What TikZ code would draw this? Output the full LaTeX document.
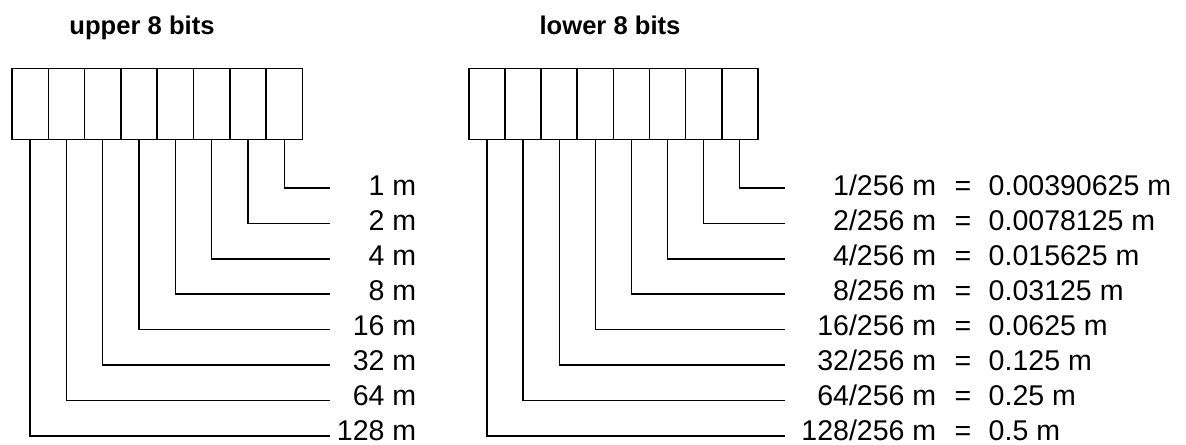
\documentclass[tikz,border=0pt]{standalone}
\usepackage{fontspec}
\setmainfont{Liberation Sans}

\begin{document}
\begin{tikzpicture}[x=0.75pt,y=-0.75pt,line width=1.1pt]
  \tikzstyle{cell}=[draw,line width=1.1pt,minimum width=27.2pt,minimum height=53.5pt,inner sep=0pt]
  \tikzstyle{title}=[inner sep=0pt,anchor=base,font=\fontsize{19.2}{22}\selectfont\bfseries]
  \tikzstyle{val}=[inner sep=0pt,font=\fontsize{21.4}{24}\selectfont]
  \tikzstyle{lead}=[line width=1.1pt]

  \useasboundingbox (0,0) rectangle (1186,445);

  % -- Titles --
  \node[title] (uppertitle) at (142,35) {upper 8 bits};
  \node[title] (lowertitle) at (610,35) {lower 8 bits};

  % -- Upper byte: cells, leads and weights --
  \foreach \i [evaluate=\i as \x using 12+36.3*(\i-0.5),
               evaluate=\i as \y using 188+35.4*(8-\i),
               evaluate=\i as \b using 196+34.9*(8-\i),
               evaluate=\i as \n using int(2^(8-\i))] in {1,...,8} {
    \node[cell] (u\i) at (\x,104) {};
    \coordinate (ue\i) at (330,\y);
    \draw[lead] (u\i.south) |- (ue\i);
    \node[val,anchor=base east] (uv\i) at (417,\b) {\n~m};
  }

  % -- Lower byte: cells, leads and fractions --
  \foreach \i/\d in {1/0.5,2/0.25,3/0.125,4/0.0625,5/0.03125,6/0.015625,7/0.0078125,8/0.00390625} {
    \pgfmathsetmacro\x{469+36.1*(\i-0.5)}
    \pgfmathsetmacro\y{188+35.4*(8-\i)}
    \pgfmathsetmacro\b{196+34.9*(8-\i)}
    \pgfmathtruncatemacro\n{2^(8-\i)}
    \node[cell] (l\i) at (\x,104) {};
    \coordinate (le\i) at (785,\y);
    \draw[lead] (l\i.south) |- (le\i);
    \node[val,anchor=base east] (ln\i) at (937,\b) {\n/256~m};
    \node[val,anchor=base] (leq\i) at (963,\b) {=};
    \node[val,anchor=base west] (lv\i) at (988,\b) {\d~m};
  }
\end{tikzpicture}
\end{document}
